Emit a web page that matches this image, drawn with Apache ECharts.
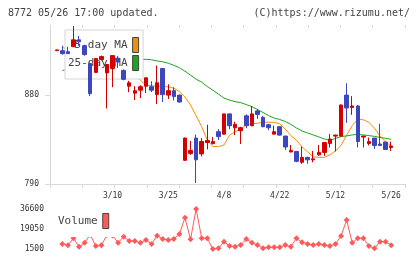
<!DOCTYPE html>
<html lang="ja">
<head>
<meta charset="UTF-8">
<title>8772</title>
<script src="https://cdn.jsdelivr.net/npm/echarts@6.0.0/dist/echarts.min.js"></script>
<style>
  body { margin: 0; background: #fff; }
  #main { width: 420px; height: 259px; }
</style>
</head>
<body>
<div id="main"></div>
<script type="text/javascript">
// 日付 (61本)
var dates = ['2/21', '2/25', '2/26', '2/27', '2/28', '3/3', '3/4', '3/5', '3/6', '3/7',
  '3/10', '3/11', '3/12', '3/13', '3/14', '3/17', '3/18', '3/19', '3/21', '3/24',
  '3/25', '3/26', '3/27', '3/28', '3/31', '4/1', '4/2', '4/3', '4/4', '4/7',
  '4/8', '4/9', '4/10', '4/11', '4/14', '4/15', '4/16', '4/17', '4/18', '4/21',
  '4/22', '4/23', '4/24', '4/25', '4/28', '4/30', '5/1', '5/2', '5/7', '5/8',
  '5/12', '5/13', '5/14', '5/15', '5/16', '5/19', '5/20', '5/21', '5/22', '5/23',
  '5/26'];

// 四本値
var opens = [925, 925, 924, 929, 936, 930, 912, 903, 916, 902.5, 907, 917.5, 905, 889, 882, 885, 889, 888.5, 880.5, 907,
  880, 884.5, 880, 814, 821, 836.5, 820.5, 832, 831, 843, 840.5, 861, 847, 844, 859, 849, 864, 857.5, 850, 840.5,
  848, 838.5, 822.5, 823, 812, 817, 814.5, 819.5, 822, 831, 838.5, 838.5, 880, 867.5, 869, 837.5, 831, 836.5, 830.5, 832.5,
  827];
var closes = [925.8, 922, 922, 936, 934, 921, 881.5, 917, 919, 911, 920, 913.5, 896, 892.5, 884.5, 888.5, 897.5, 885, 892.5, 880.5,
  884.5, 878.5, 873, 836.5, 824, 814.5, 833, 834, 833, 838, 861, 849, 850.5, 847, 849, 861, 860.5, 848, 847, 843,
  839.5, 827.5, 824, 813, 817, 814.5, 815.5, 822, 832, 835.5, 839.5, 870, 867, 869, 833, 838.5, 833, 829, 829, 825,
  828.5];
var lows = [925, 921, 922, 929, 930, 920, 879, 903, 915, 866.5, 888, 907.5, 895, 883, 875, 877, 882, 883, 871, 873,
  876, 874.5, 872.5, 813.5, 819.5, 791, 818, 825, 830, 834.5, 840, 845.5, 839.5, 830.5, 846.5, 848.5, 856, 847.5, 844.5, 840.5,
  839, 824.5, 822, 812, 810.5, 810.5, 812, 818.5, 818.5, 827, 823, 838, 852, 860, 827, 827, 829, 825.5, 828.5, 824.5,
  823.5];
var highs = [925.8, 930, 929, 950, 940, 931, 913, 917, 920, 911, 920, 919.5, 906, 894.5, 889, 890, 898, 894, 910, 907.5,
  891, 888, 880.5, 837, 833.5, 840, 836.5, 850, 837.5, 845.5, 861, 861.5, 853, 848, 860.5, 869, 866, 859, 851, 849,
  848.5, 839, 829.5, 823, 828, 817.5, 823.5, 829.5, 832.5, 840.5, 840, 870.5, 892, 879, 870, 839, 837, 836.5, 851, 832.5,
  833];

// 移動平均
var ma5 = [null, 928.5, 926, 928, 929, 927, 919, 918, 914.5, 910, 909.5, 916, 912, 906.5, 901, 895, 890, 889.5, 889, 888.5,
  888.5, 887, 883.5, 878, 870, 859, 848, 834.5, 828, 828, 829.5, 839.5, 843, 845.5, 850, 851, 851.5, 852.5, 852.5, 852.5,
  851, 845.5, 839, 834.5, 827.5, 822.5, 817.5, 817, 817, 819.5, 823.5, 829, 839.5, 849, 855.5, 855, 852.5, 846.5, 838.5, 832.5,
  828.5];
var ma25 = [null, 905, 906, 907.5, 909, 910, 910.5, 911.5, 912, 912.5, 913.5, 914, 914.5, 915, 915.5, 916, 916.3, 915.8, 914.6, 913.8,
  912.3, 910.2, 907.7, 904.2, 900.2, 896.1, 893.1, 888.6, 885, 881, 877, 875, 873.4, 872.4, 870.4, 868.4, 865.4, 862.4, 859.3, 856.8,
  855.3, 853.3, 850.3, 846.7, 843.7, 841.7, 839.7, 837.7, 835.6, 834.1, 836.2, 838, 838.7, 839.7, 840.2, 839.7, 839, 838.2, 837.2, 836.2,
  835.3];

// 出来高
var volumes = [null, 5890, 4750, 10890, 3520, 7030, 14000, 4130, 4750, 13800, 13300, 7030, 12300, 8520, 8520, 7030, 9400, 5890, 13180, 10280,
  9400, 10280, 14660, 28970, 10010, 36600, 10890, 10890, 1500, 2110, 7900, 4130, 3520, 5010, 10280, 7030, 5010, 2110, 2990, 2990,
  2990, 5010, 3520, 10890, 7380, 5890, 5010, 5890, 5010, 4130, 5890, 12910, 26950, 7030, 10890, 10890, 4130, 2110, 7900, 7900,
  4750];

var priceTicks = [790, 880];
var volumeTicks = [1500, 19050, 36600];

var myChart = echarts.init(document.getElementById('main'));
var mono = 'DejaVu Sans Mono';
var axisGray = '#d8d8d8';

var kData = dates.map(function (d, i) {
  return [opens[i], closes[i], lows[i], highs[i]];
});

// 桁区切りなしで表示
function plain(v) { return String(v); }

var option = {
  animation: false,
  backgroundColor: '#fff',
  title: [
    {
      text: '8772 05/26 17:00 updated.',
      left: 8, top: 8, padding: 0,
      textStyle: { fontFamily: mono, fontSize: 10, fontWeight: 'normal', color: '#444' }
    },
    {
      text: '(C)https://www.rizumu.net/',
      right: 10, top: 8, padding: 0,
      textStyle: { fontFamily: mono, fontSize: 10, fontWeight: 'normal', color: '#444' }
    }
  ],
  legend: [
    {
      data: [{ name: '5-day MA', icon: 'rect' }, { name: '25-day MA', icon: 'rect' }],
      orient: 'vertical', align: 'right',
      left: 65, top: 30,
      padding: [7, 4, 8, 3],
      itemWidth: 6, itemHeight: 15, itemGap: 2,
      backgroundColor: '#fff', borderColor: '#d4d4d4', borderWidth: 1,
      itemStyle: { borderColor: '#444', borderWidth: 1 },
      textStyle: { fontFamily: mono, fontSize: 11, color: '#444' },
      formatter: function (name) { return name.padStart(9); },
      selectedMode: false,
      z: 2
    },
    {
      data: [{ name: 'Volume', icon: 'rect' }],
      orient: 'vertical', align: 'right',
      left: 55, top: 206,
      padding: [7, 7, 8, 3],
      itemWidth: 6, itemHeight: 15,
      backgroundColor: '#fff', borderWidth: 0,
      itemStyle: { borderColor: '#444', borderWidth: 1 },
      textStyle: { fontFamily: mono, fontSize: 11, color: '#444' },
      selectedMode: false,
      z: 2
    }
  ],
  grid: [
    { left: 50, right: 15, top: 25, bottom: 75, outerBoundsMode: 'none' },
    { left: 54, right: 26, top: 25, bottom: 75, outerBoundsMode: 'none' },
    { left: 54, right: 26, top: 209, bottom: 10, outerBoundsMode: 'none' }
  ],
  xAxis: [
    {
      gridIndex: 0, type: 'value', min: 0, max: 11, interval: 1,
      axisLine: { show: true, onZero: false, lineStyle: { color: axisGray } },
      axisTick: { show: true, length: 4, lineStyle: { color: axisGray } },
      axisLabel: { show: false }, splitLine: { show: false }
    },
    {
      gridIndex: 0, type: 'value', min: 0, max: 11, interval: 1,
      axisLine: { show: false, onZero: false },
      axisTick: { show: true, inside: true, length: 3, lineStyle: { color: axisGray } },
      axisLabel: { show: false }, splitLine: { show: false }
    },
    {
      gridIndex: 1, type: 'category', data: dates, boundaryGap: true,
      axisLine: { show: false }, axisTick: { show: false },
      axisLabel: {
        interval: function (idx) { return idx > 0 && idx % 10 === 0; },
        margin: 8, fontFamily: mono, fontSize: 8, color: '#333'
      },
      splitLine: { show: false }
    },
    { gridIndex: 2, type: 'category', data: dates, boundaryGap: true, show: false }
  ],
  yAxis: [
    {
      gridIndex: 0, type: 'value', min: 790, max: 951,
      axisLine: { show: true, lineStyle: { color: axisGray } },
      axisTick: { show: true, length: 5, customValues: priceTicks, lineStyle: { color: axisGray } },
      axisLabel: { customValues: priceTicks, formatter: plain, margin: 11, fontFamily: mono, fontSize: 8, color: '#333' },
      splitLine: { show: false }
    },
    {
      gridIndex: 0, type: 'value', min: 790, max: 951,
      axisLine: { show: false },
      axisTick: { show: true, inside: true, length: 3, customValues: priceTicks, lineStyle: { color: axisGray } },
      axisLabel: { show: false }, splitLine: { show: false }
    },
    { gridIndex: 1, type: 'value', min: 790, max: 951, show: false, splitLine: { show: false } },
    {
      gridIndex: 2, type: 'value', min: 1500, max: 36600,
      axisLine: { show: false }, axisTick: { show: false },
      axisLabel: { customValues: volumeTicks, formatter: plain, margin: 10, fontFamily: mono, fontSize: 8, color: '#333' },
      splitLine: { show: false }
    }
  ],
  series: [
    {
      name: 'K', type: 'candlestick',
      xAxisIndex: 2, yAxisIndex: 2,
      data: kData,
      barWidth: 4,
      itemStyle: {
        color: '#d40000', color0: '#3c46bf',
        borderColor: '#d40000', borderColor0: '#3c46bf', borderWidth: 1
      },
      z: 3
    },
    {
      name: '5-day MA', type: 'line',
      xAxisIndex: 2, yAxisIndex: 2,
      data: ma5, showSymbol: false, symbol: 'none',
      color: '#f0900f', lineStyle: { width: 1, color: '#f0900f' },
      z: 1
    },
    {
      name: '25-day MA', type: 'line',
      xAxisIndex: 2, yAxisIndex: 2,
      data: ma25, showSymbol: false, symbol: 'none',
      color: '#1ea51e', lineStyle: { width: 1, color: '#1ea51e' },
      z: 1
    },
    {
      name: 'Volume', type: 'line',
      xAxisIndex: 3, yAxisIndex: 3,
      data: volumes,
      symbol: 'diamond', symbolSize: 6, showAllSymbol: true,
      color: '#ff5a5a',
      itemStyle: { color: '#ff5a5a' },
      lineStyle: { width: 1, color: '#ff5a5a' },
      z: 1
    }
  ]
};

myChart.setOption(option);
</script>
</body>
</html>
